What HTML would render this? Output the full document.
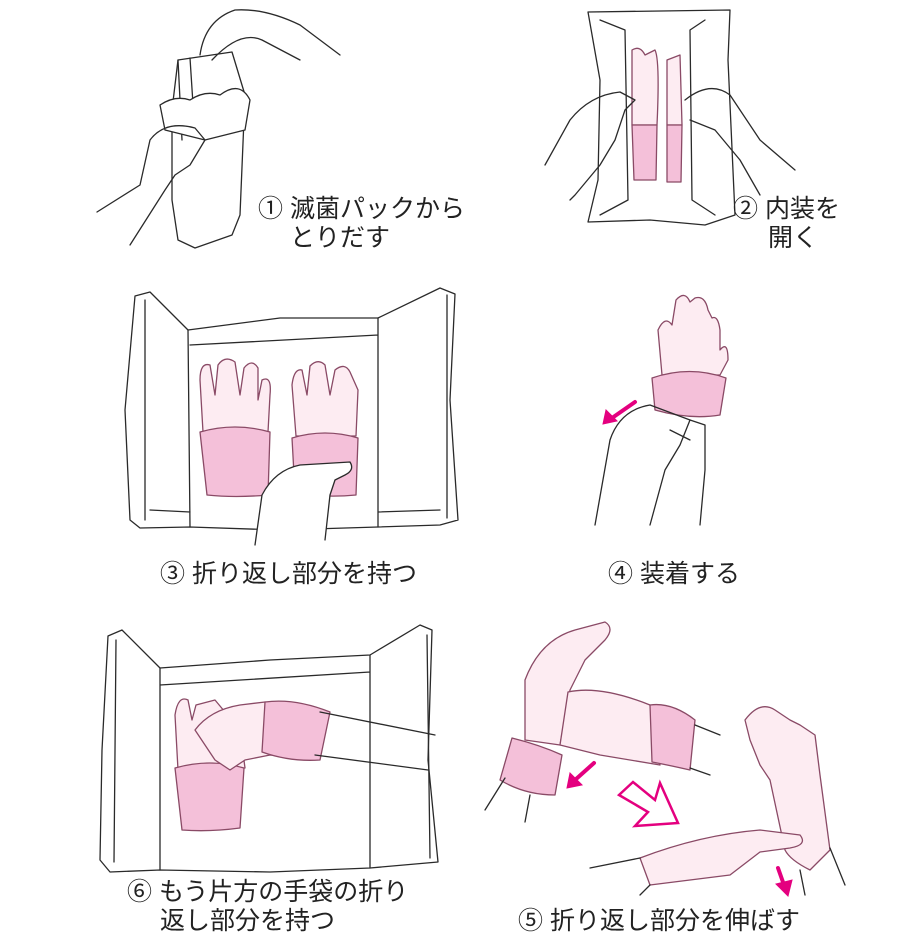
<!DOCTYPE html>
<html><head><meta charset="utf-8"><style>
html,body{margin:0;padding:0;background:#fff;width:900px;height:935px;overflow:hidden}
svg{display:block}
text{font-family:"Liberation Sans","Noto Sans CJK JP",sans-serif;font-size:25px;fill:#222}
</style></head><body>
<svg width="900" height="935" viewBox="0 0 900 935" xmlns="http://www.w3.org/2000/svg">
<g stroke="#2a2a2a" stroke-width="1.3" fill="#fff" stroke-linejoin="round" stroke-linecap="round">

<!-- Panel 1 -->
<path d="M172 110 L178 60 L232 52 L245 95 L240 215 L232 235 L195 248 L178 240 L172 200 Z"/>
<path d="M178 60 L182 140 M190 58 L195 135"/>
<path d="M160 105 Q175 95 190 100 Q205 90 220 95 Q240 80 250 100 L245 130 L205 140 L165 130 Z" fill="#fff"/>
<path d="M200 55 Q205 20 235 10 Q265 8 300 25 L340 55 M212 60 Q240 30 262 40 L300 60" fill="none"/>
<path d="M97 212 L140 185 L150 140 Q165 120 195 128 L205 140 L190 165 L175 175 L165 190 L130 245" fill="none"/>

<!-- Panel 2 -->
<path d="M588 12 L730 10 L728 60 L735 215 L705 225 L650 220 L588 222 L598 180 L600 80 Z"/>
<path d="M600 20 L625 30 L628 200 L600 215 M705 20 L690 30 L692 200 L715 215" fill="none"/>
<path d="M632 50 Q640 45 645 55 L655 50 Q660 60 657 125 L632 125 Z M667 60 L680 55 L682 125 L667 125 Z" fill="#fdecf2" stroke="#8a4a66"/>
<path d="M632 125 L657 125 L656 180 L634 180 Z M667 125 L682 125 L681 182 L667 182 Z" fill="#f4c0d9" stroke="#8a4a66"/>
<path d="M545 165 L570 120 Q590 95 620 92 L635 100 L625 110 L615 140 L600 165 L575 195 L570 200" fill="none"/>
<path d="M685 100 Q710 80 730 95 L760 140 L795 170 M690 120 L715 130 L740 160 L760 195" fill="none"/>

<!-- Panel 3 sheet -->
<path d="M135 296 L150 292 L188 330 L280 318 L378 318 L440 288 L455 294 L450 400 L458 520 L440 525 L378 527 L280 530 L190 527 L140 528 L130 520 L125 410 Z"/>
<path d="M188 330 L190 527 M378 318 L378 527 M190 345 L378 335 M145 300 L145 520 M447 295 L447 518 M150 510 L190 512 M378 512 L440 510" fill="none"/>
<path d="M203 432 L200 380 Q200 362 210 365 L215 395 L218 365 Q225 355 235 362 L240 395 L244 368 Q252 358 258 368 L258 400 L262 380 Q272 375 270 395 L268 432 Z" fill="#fdecf2" stroke="#8a4a66"/>
<path d="M200 432 Q235 422 270 432 L268 495 Q235 498 207 495 Z" fill="#f4c0d9" stroke="#8a4a66"/>
<path d="M296 436 L292 385 Q294 368 302 370 L307 395 L310 366 Q318 358 325 365 L330 395 L335 370 Q345 362 350 372 L358 390 L356 436 Z" fill="#fdecf2" stroke="#8a4a66"/>
<path d="M292 438 Q325 428 358 438 L356 495 Q325 498 295 493 Z" fill="#f4c0d9" stroke="#8a4a66"/>
<path d="M255 545 L262 495 Q275 470 300 465 L350 462 Q355 470 345 475 L335 480 L330 495 L325 540" fill="#fff"/>

<!-- Panel 4 -->
<path d="M662 375 L658 330 Q665 315 672 325 L676 300 Q685 290 690 302 L695 298 Q705 295 708 310 L712 318 Q718 315 720 330 L720 350 Q728 340 728 360 L720 375 Z" fill="#fdecf2" stroke="#8a4a66"/>
<path d="M652 378 Q690 365 726 378 L720 415 Q690 420 655 410 Z" fill="#f4c0d9" stroke="#8a4a66"/>
<path d="M595 525 L610 440 Q620 410 650 405 L690 420 L680 445 L665 470 L650 525" fill="none"/>
<path d="M690 420 L705 425 L705 470 L700 525 M670 430 L690 440" fill="none"/>

<!-- Panel 6 sheet -->
<path d="M108 636 L122 630 L160 668 L270 660 L370 655 L420 625 L432 630 L428 760 L438 862 L370 868 L270 872 L160 870 L110 872 L100 860 L102 750 Z"/>
<path d="M160 668 L160 870 M370 655 L370 868 M160 685 L370 672 M116 640 L114 862 M427 635 L430 858" fill="none"/>
<path d="M178 770 L175 715 Q178 695 188 700 L192 720 L196 705 L215 700 L240 730 L245 768 Z" fill="#fdecf2" stroke="#8a4a66"/>
<path d="M175 768 Q210 758 244 768 L240 828 Q210 832 182 830 Z" fill="#f4c0d9" stroke="#8a4a66"/>
<path d="M195 730 Q210 710 240 705 L265 702 L320 710 L310 758 L270 755 L245 760 L230 770 L215 760 Z" fill="#fdecf2" stroke="#8a4a66"/>
<path d="M265 702 Q295 698 330 712 L320 760 Q290 762 262 752 Z" fill="#f4c0d9" stroke="#8a4a66"/>
<path d="M320 712 L435 735 M315 755 L428 770" fill="none"/>

<!-- Panel 5 -->
<path d="M525 740 L525 680 Q540 640 575 630 L605 622 Q615 628 605 640 L585 660 L570 690 L560 745 Z" fill="#fdecf2" stroke="#8a4a66"/>
<path d="M512 738 Q540 745 562 755 L555 795 Q525 795 500 780 Z" fill="#f4c0d9" stroke="#8a4a66"/>
<path d="M568 692 Q600 685 650 705 L660 765 Q630 760 600 755 L560 745 Z" fill="#fdecf2" stroke="#8a4a66"/>
<path d="M650 705 Q672 702 695 720 L690 770 Q668 765 652 762 Z" fill="#f4c0d9" stroke="#8a4a66"/>
<path d="M695 725 L720 735 M690 768 L710 775 M505 778 L485 810 M530 795 L525 822" fill="none"/>
<path d="M745 720 Q760 700 775 710 L790 720 L800 725 L815 735 L820 775 L830 850 L810 870 Q790 860 785 850 L770 780 L760 765 L750 740 Z" fill="#fdecf2" stroke="#8a4a66"/>
<path d="M640 858 Q700 835 760 830 L800 835 Q808 845 790 848 L760 852 L730 875 L690 880 L650 885 Z" fill="#fdecf2" stroke="#8a4a66"/>
<path d="M590 868 L640 858 M650 885 L640 895 M830 848 L845 885 M800 870 L805 895" fill="none"/>
</g>

<g fill="#e4007f" stroke="#e4007f" stroke-width="4" stroke-linecap="round">
<line x1="635" y1="402" x2="612" y2="418"/><path d="M603 424 L606 410 L617 421 Z" stroke-width="1"/>
<line x1="594" y1="763" x2="575" y2="780"/><path d="M567 788 L570 773 L582 785 Z" stroke-width="1"/>
<line x1="778" y1="868" x2="784" y2="885"/><path d="M788 896 L776 884 L792 880 Z" stroke-width="1"/>
</g>
<path d="M619 795 L633 782 L655 800 L660 783 L678 823 L635 826 L648 812 Z" fill="#fff" stroke="#e4007f" stroke-width="2.5" stroke-linejoin="miter"/>

<text x="258" y="217">① 滅菌パックから</text>
<text x="290" y="246">とりだす</text>
<text x="733" y="217">② 内装を</text>
<text x="768" y="246">開く</text>
<text x="160" y="582">③ 折り返し部分を持つ</text>
<text x="608" y="582">④ 装着する</text>
<text x="127" y="900">⑥ もう片方の手袋の折り</text>
<text x="160" y="929">返し部分を持つ</text>
<text x="518" y="929">⑤ 折り返し部分を伸ばす</text>
</svg>
</body></html>
